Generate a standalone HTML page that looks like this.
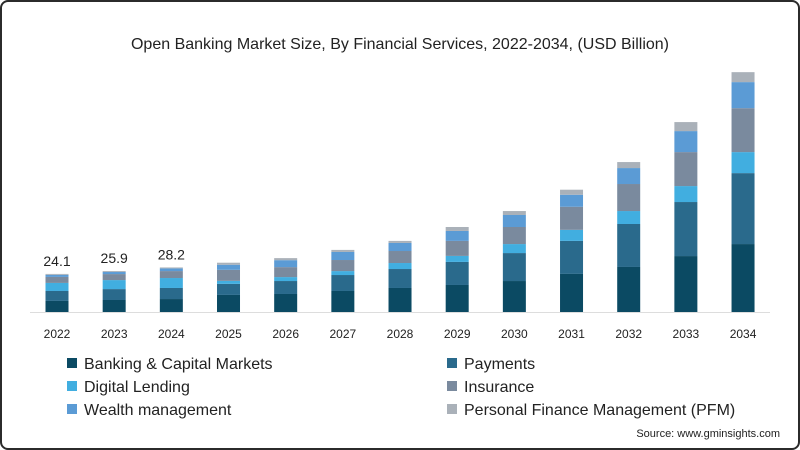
<!DOCTYPE html>
<html><head><meta charset="utf-8"><style>
body{margin:0;background:#fff;font-family:"Liberation Sans",sans-serif}
#wrap{position:relative;width:796px;height:446px;border:2px solid #2b2b2b;border-radius:8px;overflow:hidden;background:#fff}
</style></head><body>
<div id="wrap">
<svg id="c" width="796" height="446"></svg>
</div>
<script>
const years=["2022","2023","2024","2025","2026","2027","2028","2029","2030","2031","2032","2033","2034"];
const banking=[7.0,7.6,8.2,10.8,11.4,13.3,15.2,17.1,19.6,24.1,28.5,35.4,43.0];
const payments=[6.3,6.9,7.0,7.0,8.2,10.1,12.0,14.6,17.7,20.9,27.2,34.2,44.9];
const lending=[5.1,5.7,6.3,1.9,2.5,2.5,3.8,3.8,5.7,7.0,8.2,10.1,13.3];
const insurance=[3.8,3.8,4.4,7.0,6.3,7.0,7.6,9.5,10.8,14.6,17.1,21.5,27.8];
const wealth=[1.3,1.3,1.7,3.2,4.4,5.1,5.1,6.3,7.6,7.6,10.1,13.3,16.5];
const pfm=[0.6,0.6,0.6,1.3,1.3,1.3,1.3,2.5,2.5,3.2,3.8,5.7,6.3];
const topLabels=["24.1","25.9","28.2"];
const seriesNames=["Banking & Capital Markets","Payments","Digital Lending","Insurance","Wealth management","Personal Finance Management (PFM)"];
const series=[banking,payments,lending,insurance,wealth,pfm];
const colors=["#0b4a63","#2a6a8c","#41aee0","#7a8a9e","#5b9bd5","#aab1b9"];
const NS="http://www.w3.org/2000/svg";
const svg=document.getElementById('c');
const ox=-2,oy=-2;
const base=312+oy;
const yScale=v=>v*1.58;
const xPos=i=>57+ox+i*57.17;
const bw=23;
function mk(t,a){const e=document.createElementNS(NS,t);for(const k in a)e.setAttribute(k,a[k]);svg.appendChild(e);return e;}
const title=mk('text',{x:398+ox+2,y:49+oy,'text-anchor':'middle','font-size':16,fill:'#222'});
title.textContent="Open Banking Market Size, By Financial Services, 2022-2034, (USD Billion)";


const ax=mk('line',{x1:30+ox,x2:770+ox,y1:base+0.5,y2:base+0.5,stroke:'#ddd','stroke-width':1});


years.forEach((yr,i)=>{
  let acc=0;
  series.forEach((s,j)=>{
    const h=yScale(s[i]);
    const r=mk('rect',{x:xPos(i)-bw/2,y:base-yScale(acc)-h,width:bw,height:h,fill:colors[j]});
    
    
    acc+=s[i];
  });
  const t=mk('text',{x:xPos(i),y:338+oy,'text-anchor':'middle','font-size':12,fill:'#222'});
  t.textContent=yr;
  
  
  if(i<topLabels.length){
    const l=mk('text',{x:xPos(i),y:base-yScale(acc)-8,'text-anchor':'middle','font-size':14,fill:'#222'});
    l.textContent=topLabels[i];
    
    
  }
});
seriesNames.forEach((n,j)=>{
  const col=j%2,row=Math.floor(j/2);
  const x=(col?452:72)+ox,y=363+row*23+oy;
  const r=mk('rect',{x:x-5,y:y-5,width:10,height:10,fill:colors[j]});
  
  
  const t=mk('text',{x:x+12,y:y+6,'font-size':16,fill:'#222'});
  t.textContent=n;
  
  
});
const src=mk('text',{x:780+ox,y:437+oy,'text-anchor':'end','font-size':11,fill:'#222'});
src.textContent="Source: www.gminsights.com";


</script>
</body></html>
